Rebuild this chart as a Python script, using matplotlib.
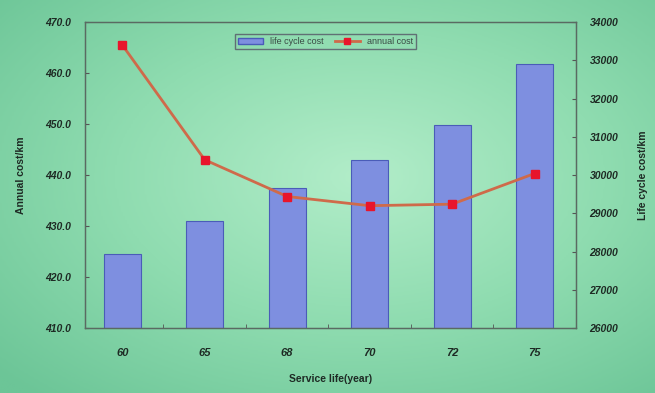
import numpy as np
import matplotlib
matplotlib.use("Agg")
from matplotlib import pyplot as plt
from matplotlib.colors import LinearSegmentedColormap
from matplotlib.lines import Line2D
from matplotlib.patches import Patch

plt.rcParams['font.family'] = ['Liberation Sans', 'DejaVu Sans']

# service life categories
years = ["60", "65", "68", "70", "72", "75"]
# life cycle cost per km (right axis, bars)
life_cycle_cost = [27950, 28800, 29650, 30400, 31300, 32900]
# annual cost per km (left axis, line)
annual_cost = [465.5, 443.0, 435.8, 434.0, 434.3, 440.3]

left_ticks = [410, 420, 430, 440, 450, 460, 470]
right_ticks = [26000, 27000, 28000, 29000, 30000, 31000, 32000, 33000, 34000]

text_col = "#1e2a24"
bar_col = "#7e8fe0"
bar_edge = "#4a5cb8"
line_col = "#cf6a4a"
marker_col = "#e8152c"

fig = plt.figure(figsize=(6.55, 3.93), dpi=100)

# green slide background with a lighter centre
bg = fig.add_axes([0, 0, 1, 1], zorder=-10)
yy, xx = np.mgrid[0:1:200j, 0:1:330j]
r = np.sqrt(((xx - 0.55) / 0.75) ** 2 + ((yy - 0.45) / 0.75) ** 2)
cmap = LinearSegmentedColormap.from_list("slide", ["#b2edc9", "#8fdcb0", "#6cc597"])
bg.imshow(r, cmap=cmap, aspect="auto", extent=[0, 1, 0, 1], vmin=0, vmax=1)
bg.axis("off")

ax = fig.add_axes([0.130, 0.165, 0.749, 0.779])
ax.set_facecolor("none")
ax2 = ax.twinx()

x = np.arange(len(years))

# bars on the secondary axis
ax2.bar(x, life_cycle_cost, width=0.45, color=bar_col, edgecolor=bar_edge,
        linewidth=0.8, zorder=1)
ax2.set_ylim(26000, 34000)
ax2.set_yticks(right_ticks)
ax2.set_yticklabels([str(v) for v in right_ticks])
ax2.set_ylabel("Life cycle cost/km", color=text_col, fontsize=7.5,
               fontweight="bold", labelpad=14)

# put the line axis above the bars
ax.set_zorder(ax2.get_zorder() + 1)
ax.plot(x, annual_cost, color=line_col, linewidth=2, marker="s",
        markersize=6, markerfacecolor=marker_col, markeredgecolor=marker_col)
ax.set_ylim(410, 470)
ax.set_yticks(left_ticks)
ax.set_yticklabels(["%.1f" % v for v in left_ticks])
ax.set_ylabel("Annual cost/km", color=text_col, fontsize=7.5,
              fontweight="bold", labelpad=14)

ax.set_xlim(-0.45, len(years) - 0.5)
ax.set_xticks(x)
ax.set_xticklabels(years)
ax.set_xticks(np.arange(0.5, len(years) - 0.5), minor=True)
ax.tick_params(axis="x", which="major", length=0, pad=14)
ax.tick_params(axis="x", which="minor", direction="in", length=3, color="#555")
ax.set_xlabel("Service life(year)", color=text_col, fontsize=7.5,
              fontweight="bold", labelpad=12)

for a in (ax, ax2):
    a.tick_params(axis="y", direction="in", length=3, color="#555",
                  labelsize=7.5, labelcolor=text_col, pad=10)
    for s in a.spines.values():
        s.set_color("#5a6a62")
        s.set_linewidth(0.9)
for lab in ax.get_xticklabels() + ax.get_yticklabels() + ax2.get_yticklabels():
    lab.set_fontweight("bold")
    lab.set_fontstyle("italic")
ax.tick_params(axis="x", labelsize=8, labelcolor=text_col)

handles = [Patch(facecolor=bar_col, edgecolor=bar_edge, label="life cycle cost"),
           Line2D([], [], color=line_col, linewidth=2, marker="s", markersize=4,
                  markerfacecolor=marker_col, markeredgecolor=marker_col,
                  label="annual cost")]
leg = ax.legend(handles=handles, loc="upper center", bbox_to_anchor=(0.49, 0.975),
                ncol=2, fontsize=6.5, frameon=True, fancybox=False,
                handlelength=2.8, columnspacing=1.2, borderpad=0.35)
leg.get_frame().set_edgecolor("#556")
leg.get_frame().set_facecolor("none")
for t in leg.get_texts():
    t.set_color("#3a4a44")

fig.savefig("out.png", dpi=100)
